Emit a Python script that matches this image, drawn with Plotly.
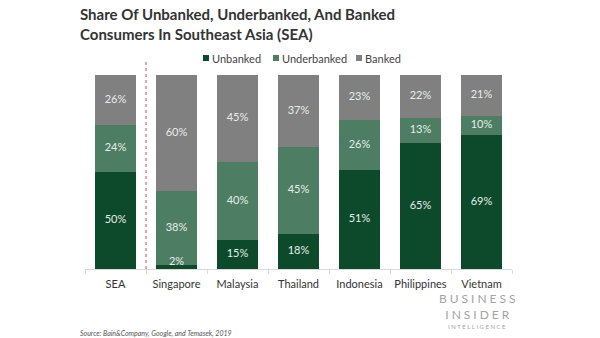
import plotly.graph_objects as go

# Survey shares (%) by market
regions = ["SEA", "Singapore", "Malaysia", "Thailand", "Indonesia", "Philippines", "Vietnam"]
unbanked = [50, 2, 15, 18, 51, 65, 69]
underbanked = [24, 38, 40, 45, 26, 13, 10]
banked = [26, 60, 45, 37, 23, 22, 21]

series = [
    ("Unbanked", unbanked, "#0d4a2b"),
    ("Underbanked", underbanked, "#4d7e63"),
    ("Banked", banked, "#808080"),
]

# plot-area geometry in pixels
L, R, T, B = 85, 88, 75, 69
PW, PH = 600 - L - R, 338 - T - B


def px(xp):
    return (xp - L) / PW


def py(yp):
    return (338 - B - yp) / PH


fig = go.Figure()
base = [0] * len(regions)
lab_x, lab_y, lab_t = [], [], []
for name, vals, color in series:
    fig.add_trace(go.Bar(
        name=name,
        x=regions,
        y=vals,
        marker=dict(color=color, line=dict(width=0)),
        hoverinfo="skip",
        showlegend=False,
    ))
    for i, v in enumerate(vals):
        mid = base[i] + v / 2
        lab_x.append(regions[i])
        lab_y.append(max(mid, 3.6))
        lab_t.append(f"{v}%")
        base[i] += v

# segment value labels, drawn above all bars
fig.add_trace(go.Scatter(
    x=lab_x, y=lab_y, text=lab_t, mode="text",
    textposition="middle center",
    textfont=dict(family="Lato", size=11, color="#e6eee8"),
    hoverinfo="skip", showlegend=False,
))

# Dotted separator between the regional total and the individual markets
fig.add_shape(
    type="line", xref="x", yref="paper",
    x0=0.5, x1=0.5, y0=0, y1=py(62),
    line=dict(color="#e0474c", width=1, dash="dot"),
)

fig.update_layout(
    barmode="stack",
    bargap=0.33,
    width=600, height=338,
    margin=dict(l=L, r=R, t=T, b=B),
    plot_bgcolor="white",
    paper_bgcolor="white",
    font=dict(family="Lato", color="#333333"),
    xaxis=dict(
        showline=True, linecolor="#d9d9d9", linewidth=1,
        ticks="outside", tickson="boundaries", ticklen=4, tickcolor="#d9d9d9",
        tickangle=0, ticklabelstandoff=5,
        tickfont=dict(family="Lato", size=11, color="#333333"),
        showgrid=False,
    ),
    yaxis=dict(range=[0, 100], visible=False, showgrid=False),
    showlegend=False,
)

# legend drawn as small swatches plus labels
legend_items = [("Unbanked", "#0d4a2b", 203), ("Underbanked", "#4d7e63", 273), ("Banked", "#808080", 356)]
for name, color, xs in legend_items:
    fig.add_shape(
        type="rect", xref="paper", yref="paper",
        x0=px(xs), x1=px(xs + 6), y0=py(61), y1=py(55),
        fillcolor=color, line=dict(width=0),
    )
    fig.add_annotation(
        text=name, xref="paper", yref="paper",
        x=px(xs + 7), y=py(58), xanchor="left", yanchor="middle",
        showarrow=False, font=dict(family="Lato", size=11, color="#444444"),
    )

fig.add_annotation(
    text="<b>Share Of Unbanked, Underbanked, And Banked<br>Consumers In Southeast Asia (SEA)</b>",
    xref="paper", yref="paper",
    x=px(78), y=py(3),
    xanchor="left", yanchor="top", align="left", showarrow=False,
    font=dict(family="Lato", size=15, color="#333333"),
)
fig.add_annotation(
    text="<i>Source: Bain&Company, Google, and Temasek, 2019</i>",
    xref="paper", yref="paper",
    x=px(78), y=py(333),
    xanchor="left", yanchor="middle", showarrow=False,
    font=dict(family="Lato", size=7, color="#555555"),
)

# Wordmark in the bottom-right corner
sp = "\u2009"
fig.add_annotation(
    text=(sp * 2).join("BUSINESS") + "<br>" + (sp * 2).join("INSIDER"),
    xref="paper", yref="paper",
    x=px(477), y=py(306),
    xanchor="center", yanchor="middle", align="center", showarrow=False,
    font=dict(family="Lato", size=12, color="#a3a3a3"),
)
fig.add_annotation(
    text=(sp * 2).join("INTELLIGENCE"),
    xref="paper", yref="paper",
    x=px(477), y=py(326),
    xanchor="center", yanchor="middle", showarrow=False,
    font=dict(family="Lato", size=6, color="#a3a3a3"),
)

fig.write_html("out.html")
